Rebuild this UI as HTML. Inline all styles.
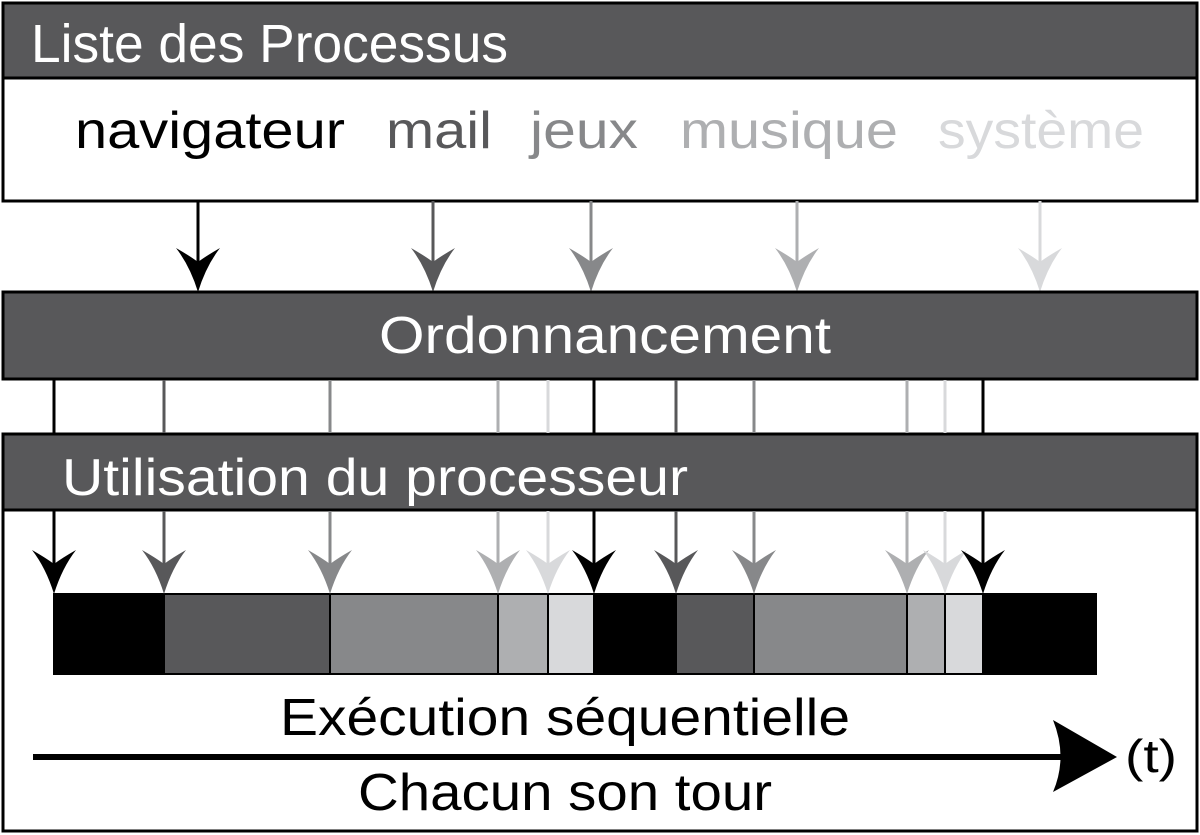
<!DOCTYPE html>
<html><head><meta charset="utf-8"><style>
html,body{margin:0;padding:0;background:#fff;}
svg{display:block;}
text{font-family:"Liberation Sans",sans-serif;}
</style></head><body>
<svg width="1200" height="835" viewBox="0 0 1200 835" xmlns="http://www.w3.org/2000/svg">
<defs>
<path id="ah" d="M0,0 Q-8,-26 -22,-44 Q-8,-36 0,-30 Q8,-36 22,-44 Q8,-26 0,0 Z"/>
</defs>
<rect x="3" y="3" width="1194" height="198" fill="#fff" stroke="#000" stroke-width="3"/>
<rect x="3" y="3" width="1194" height="75" fill="#58585a" stroke="#000" stroke-width="3"/>
<text x="31" y="62" font-size="54" fill="#fff" textLength="477" lengthAdjust="spacingAndGlyphs">Liste des Processus</text>
<text x="75" y="148" font-size="52" fill="#000" textLength="270" lengthAdjust="spacingAndGlyphs">navigateur</text>
<text x="386" y="148" font-size="52" fill="#58585a" textLength="106" lengthAdjust="spacingAndGlyphs">mail</text>
<text x="530" y="148" font-size="52" fill="#87888a" textLength="108" lengthAdjust="spacingAndGlyphs">jeux</text>
<text x="680" y="148" font-size="52" fill="#aeafb1" textLength="218" lengthAdjust="spacingAndGlyphs">musique</text>
<text x="938" y="148" font-size="52" fill="#d8d9db" textLength="206" lengthAdjust="spacingAndGlyphs">système</text>

<g stroke-width="3">
<line x1="198" y1="201" x2="198" y2="270" stroke="#000"/>
<line x1="433" y1="201" x2="433" y2="270" stroke="#58585a"/>
<line x1="591" y1="201" x2="591" y2="270" stroke="#87888a"/>
<line x1="797" y1="201" x2="797" y2="270" stroke="#aeafb1"/>
<line x1="1040" y1="201" x2="1040" y2="270" stroke="#d8d9db"/>
</g>
<use href="#ah" x="198" y="292" fill="#000"/>
<use href="#ah" x="433" y="292" fill="#58585a"/>
<use href="#ah" x="591" y="292" fill="#87888a"/>
<use href="#ah" x="797" y="292" fill="#aeafb1"/>
<use href="#ah" x="1040" y="292" fill="#d8d9db"/>

<rect x="3" y="292" width="1194" height="87" fill="#58585a" stroke="#000" stroke-width="3"/>
<text x="605" y="353" font-size="52" fill="#fff" text-anchor="middle" textLength="452" lengthAdjust="spacingAndGlyphs">Ordonnancement</text>

<rect x="3" y="434" width="1194" height="397" fill="#fff" stroke="#000" stroke-width="3"/>
<rect x="3" y="434" width="1194" height="76" fill="#58585a" stroke="#000" stroke-width="3"/>
<text x="62" y="495" font-size="52" fill="#fff" textLength="626" lengthAdjust="spacingAndGlyphs">Utilisation du processeur</text>

<g stroke-width="3">
<line x1="54" y1="380" x2="54" y2="433" stroke="#000"/><line x1="54" y1="511" x2="54" y2="575" stroke="#000"/>
<line x1="164" y1="380" x2="164" y2="433" stroke="#58585a"/><line x1="164" y1="511" x2="164" y2="575" stroke="#58585a"/>
<line x1="330" y1="380" x2="330" y2="433" stroke="#87888a"/><line x1="330" y1="511" x2="330" y2="575" stroke="#87888a"/>
<line x1="498" y1="380" x2="498" y2="433" stroke="#aeafb1"/><line x1="498" y1="511" x2="498" y2="575" stroke="#aeafb1"/>
<line x1="548" y1="380" x2="548" y2="433" stroke="#d8d9db"/><line x1="548" y1="511" x2="548" y2="575" stroke="#d8d9db"/>
<line x1="594" y1="380" x2="594" y2="433" stroke="#000"/><line x1="594" y1="511" x2="594" y2="575" stroke="#000"/>
<line x1="676" y1="380" x2="676" y2="433" stroke="#58585a"/><line x1="676" y1="511" x2="676" y2="575" stroke="#58585a"/>
<line x1="754" y1="380" x2="754" y2="433" stroke="#87888a"/><line x1="754" y1="511" x2="754" y2="575" stroke="#87888a"/>
<line x1="907" y1="380" x2="907" y2="433" stroke="#aeafb1"/><line x1="907" y1="511" x2="907" y2="575" stroke="#aeafb1"/>
<line x1="945" y1="380" x2="945" y2="433" stroke="#d8d9db"/><line x1="945" y1="511" x2="945" y2="575" stroke="#d8d9db"/>
<line x1="983" y1="380" x2="983" y2="433" stroke="#000"/><line x1="983" y1="511" x2="983" y2="575" stroke="#000"/>
</g>
<g stroke="#000" stroke-width="2">
<rect x="54" y="594" width="110" height="80" fill="#000"/>
<rect x="164" y="594" width="166" height="80" fill="#58585a"/>
<rect x="330" y="594" width="168" height="80" fill="#87888a"/>
<rect x="498" y="594" width="50" height="80" fill="#aeafb1"/>
<rect x="548" y="594" width="46" height="80" fill="#d8d9db"/>
<rect x="594" y="594" width="82" height="80" fill="#000"/>
<rect x="676" y="594" width="78" height="80" fill="#58585a"/>
<rect x="754" y="594" width="153" height="80" fill="#87888a"/>
<rect x="907" y="594" width="38" height="80" fill="#aeafb1"/>
<rect x="945" y="594" width="38" height="80" fill="#d8d9db"/>
<rect x="983" y="594" width="113" height="80" fill="#000"/>
</g>
<use href="#ah" x="54" y="594" fill="#000"/>
<use href="#ah" x="164" y="594" fill="#58585a"/>
<use href="#ah" x="330" y="594" fill="#87888a"/>
<use href="#ah" x="498" y="594" fill="#aeafb1"/>
<use href="#ah" x="548" y="594" fill="#d8d9db"/>
<use href="#ah" x="594" y="594" fill="#000"/>
<use href="#ah" x="676" y="594" fill="#58585a"/>
<use href="#ah" x="754" y="594" fill="#87888a"/>
<use href="#ah" x="907" y="594" fill="#aeafb1"/>
<use href="#ah" x="945" y="594" fill="#d8d9db"/>
<use href="#ah" x="983" y="594" fill="#000"/>

<text x="565" y="735" font-size="52" fill="#000" text-anchor="middle" textLength="570" lengthAdjust="spacingAndGlyphs">Exécution séquentielle</text>
<line x1="33" y1="757" x2="1070" y2="757" stroke="#000" stroke-width="6"/>
<path d="M1117,757 L1053,720 Q1068,757 1053,792 Z" fill="#000"/>
<text x="1125" y="772" font-size="46" fill="#000" textLength="52" lengthAdjust="spacingAndGlyphs">(t)</text>
<text x="565" y="810" font-size="52" fill="#000" text-anchor="middle" textLength="414" lengthAdjust="spacingAndGlyphs">Chacun son tour</text>
</svg>
</body></html>
